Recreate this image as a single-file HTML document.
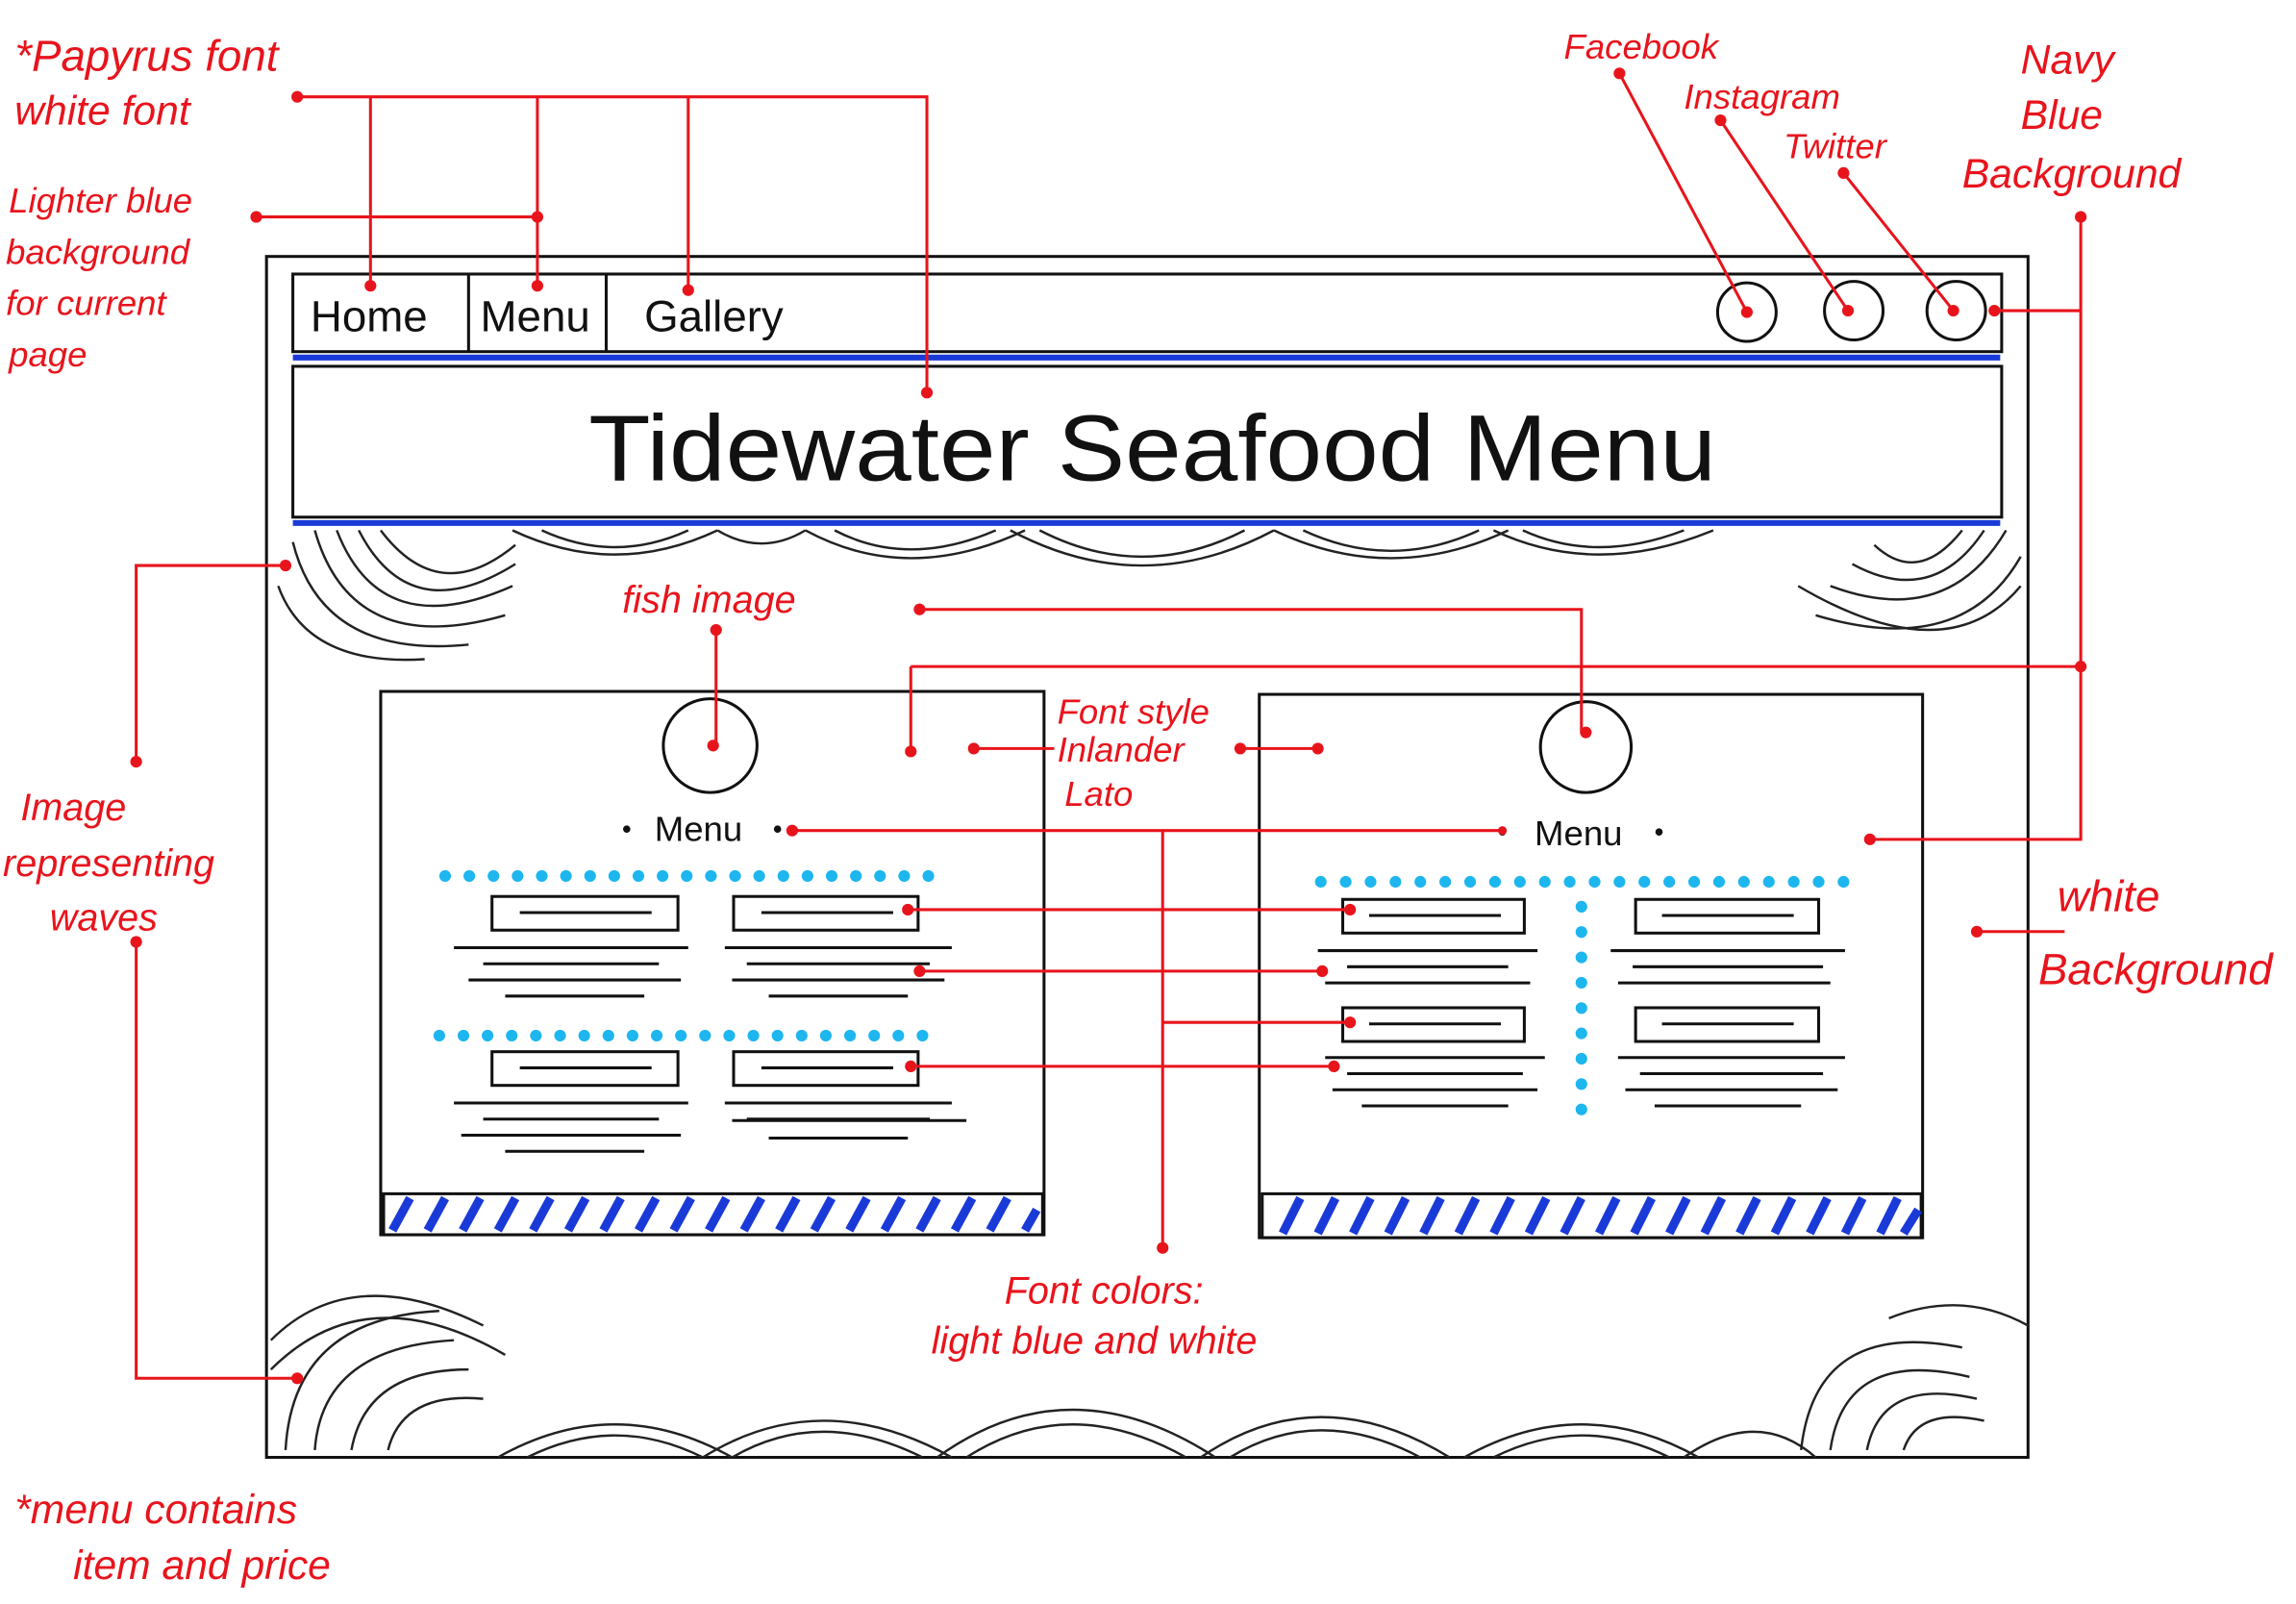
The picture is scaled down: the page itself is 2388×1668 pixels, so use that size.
<!DOCTYPE html>
<html><head><meta charset="utf-8"><style>
html,body{margin:0;padding:0;background:#fff}
svg{display:block}
.r{fill:#e8141c;font-family:"Liberation Sans",sans-serif;font-style:italic;font-size:24px}
.k{stroke:#111;fill:none;stroke-width:2}
.w{stroke:#222;fill:none;stroke-width:1.6}
.rl{stroke:#e8141c;stroke-width:2;fill:none}
.d{fill:#e8141c}
</style></head><body>
<svg width="2388" height="1668" viewBox="0 0 1568 1095" xmlns="http://www.w3.org/2000/svg">
<rect width="1568" height="1095" fill="#fff"/>
<rect x="182" y="175" width="1203" height="820" class="k"/>
<rect x="200" y="187" width="1167" height="53" class="k"/>
<line x1="320" y1="187" x2="320" y2="240" class="k"/>
<line x1="414" y1="187" x2="414" y2="240" class="k"/>
<g font-family="Liberation Sans,sans-serif" font-size="30" fill="#111">
<text x="212" y="226">Home</text><text x="328" y="226">Menu</text><text x="440" y="226">Gallery</text></g>
<circle cx="1193" cy="213" r="20" class="k"/><circle cx="1266" cy="212" r="20" class="k"/><circle cx="1336" cy="212" r="20" class="k"/>
<line x1="200" y1="244" x2="1366" y2="244" stroke="#1a3ad8" stroke-width="4"/>
<rect x="200" y="250" width="1167" height="103" class="k"/>
<text x="402" y="328" textLength="770" lengthAdjust="spacingAndGlyphs" font-family="Liberation Sans,sans-serif" font-size="64" fill="#111">Tidewater Seafood Menu</text>
<line x1="200" y1="357" x2="1366" y2="357" stroke="#1a3ad8" stroke-width="4"/>
<g class="w">
<path d="M230 362 Q260 440 350 400"/><path d="M215 362 Q240 450 345 420"/><path d="M200 370 Q220 450 320 440"/><path d="M190 400 Q210 455 290 450"/><path d="M245 362 Q280 430 352 385"/><path d="M260 362 Q300 415 352 372"/>
<path d="M1380 380 Q1340 450 1240 420"/><path d="M1380 400 Q1330 460 1228 400"/><path d="M1370 362 Q1330 430 1250 400"/><path d="M1355 362 Q1320 415 1265 385"/><path d="M1340 362 Q1310 400 1280 372"/>
<path d="M350 362 Q420 395 490 362"/><path d="M370 362 Q420 385 470 362"/><path d="M550 362 Q620 400 700 362"/><path d="M570 362 Q620 388 680 362"/><path d="M690 362 Q780 410 870 362"/><path d="M710 362 Q780 398 850 362"/><path d="M870 362 Q950 400 1030 362"/><path d="M890 362 Q950 390 1010 362"/><path d="M1020 362 Q1090 395 1170 362"/><path d="M1040 362 Q1090 385 1150 362"/><path d="M490 362 Q520 380 550 362"/>
</g>
<g class="w">
<path d="M185 915 Q240 860 330 905"/><path d="M185 935 Q250 870 345 925"/><path d="M195 990 Q200 900 300 895"/><path d="M215 990 Q220 920 310 915"/><path d="M240 990 Q250 935 320 935"/><path d="M265 990 Q275 950 330 955"/>
<path d="M1230 990 Q1240 900 1340 920"/><path d="M1250 990 Q1260 920 1345 940"/><path d="M1275 990 Q1285 940 1350 955"/><path d="M1300 990 Q1310 960 1355 970"/><path d="M1290 900 Q1340 880 1385 905"/>
<path d="M340 995 Q420 950 500 995"/><path d="M360 995 Q420 965 480 995"/><path d="M480 995 Q560 945 650 995"/><path d="M500 995 Q560 960 630 995"/><path d="M640 995 Q730 930 830 995"/><path d="M660 995 Q730 950 810 995"/><path d="M820 995 Q900 940 990 995"/><path d="M840 995 Q900 958 970 995"/><path d="M1000 995 Q1080 950 1160 995"/><path d="M1020 995 Q1080 965 1140 995"/><path d="M1150 995 Q1200 960 1240 995"/>
</g>
<rect x="260" y="472" width="453" height="371" class="k"/>
<circle cx="485" cy="509" r="32" class="k"/>
<text x="447" y="574" font-family="Liberation Sans,sans-serif" font-size="24" fill="#111">Menu</text>
<circle cx="428" cy="566" r="2.5" fill="#111"/><circle cx="531" cy="566" r="2.5" fill="#111"/>
<line x1="304" y1="598" x2="643" y2="598" stroke="#1db6ef" stroke-width="8" stroke-linecap="round" stroke-dasharray="0 16.5"/>
<line x1="300" y1="707" x2="640" y2="707" stroke="#1db6ef" stroke-width="8" stroke-linecap="round" stroke-dasharray="0 16.5"/>
<g class="k" stroke-width="1.6">
<rect x="336" y="612" width="127" height="23"/><rect x="501" y="612" width="126" height="23"/><rect x="336" y="718" width="127" height="23"/><rect x="501" y="718" width="126" height="23"/>
<path d="M355 623H445M520 623H610M355 729H445M520 729H610"/>
<path d="M310 647H470M330 658H450M320 669H465M345 680H440M495 647H650M510 658H635M500 669H645M525 680H620"/>
<path d="M310 753H470M330 764H450M315 775H465M345 786H440M495 753H650M510 764H635M500 765H660M525 777H620"/>
</g>
<rect x="262" y="815" width="450" height="28" class="k"/>
<g stroke="#1a3ad8" stroke-width="6">
<path d="M268 840L280 818M292 840L304 818M316 840L328 818M340 840L352 818M364 840L376 818M388 840L400 818M412 840L424 818M436 840L448 818M460 840L472 818M484 840L496 818M508 840L520 818M532 840L544 818M556 840L568 818M580 840L592 818M604 840L616 818M628 840L640 818M652 840L664 818M676 840L688 818M700 840L708 826"/></g>
<rect x="860" y="474" width="453" height="371" class="k"/>
<circle cx="1083" cy="510" r="31" class="k"/>
<text x="1048" y="577" font-family="Liberation Sans,sans-serif" font-size="24" fill="#111">Menu</text>
<circle cx="1026" cy="568" r="2.5" fill="#111"/><circle cx="1133" cy="568" r="2.5" fill="#111"/>
<line x1="902" y1="602" x2="1262" y2="602" stroke="#1db6ef" stroke-width="8" stroke-linecap="round" stroke-dasharray="0 17"/>
<line x1="1080" y1="619" x2="1080" y2="758" stroke="#1db6ef" stroke-width="8" stroke-linecap="round" stroke-dasharray="0 17.3"/>
<g class="k" stroke-width="1.6">
<rect x="917" y="614" width="124" height="23"/><rect x="1117" y="614" width="125" height="23"/><rect x="917" y="688" width="124" height="23"/><rect x="1117" y="688" width="125" height="23"/>
<path d="M935 625H1025M1135 625H1225M935 699H1025M1135 699H1225"/>
<path d="M900 649H1050M920 660H1030M905 671H1045M1100 649H1260M1115 660H1245M1105 671H1250"/>
<path d="M905 722H1055M920 733H1040M910 744H1050M930 755H1030M1105 722H1260M1120 733H1245M1110 744H1255M1130 755H1230"/>
</g>
<rect x="862" y="815" width="450" height="30" class="k"/>
<g stroke="#1a3ad8" stroke-width="6">
<path d="M876 842L888 818M900 842L912 818M924 842L936 818M948 842L960 818M972 842L984 818M996 842L1008 818M1020 842L1032 818M1044 842L1056 818M1068 842L1080 818M1092 842L1104 818M1116 842L1128 818M1140 842L1152 818M1164 842L1176 818M1188 842L1200 818M1212 842L1224 818M1236 842L1248 818M1260 842L1272 818M1284 842L1296 818M1300 842L1310 826"/></g>
<g class="rl">
<path d="M203 66H633V268M253 66V195M367 66V195M470 66V198"/>
<path d="M175 148H367"/>
<path d="M1106 50L1193 213M1175 82L1262 212M1259 118L1334 212"/>
<path d="M1421 148V573H1277M1362 212H1421M622 455H1421M622 455V513"/>
<path d="M489 430V509M628 416H1080V500"/>
<path d="M665 511H720M847 511H900"/>
<path d="M541 567H1026M794 568V852M620 621H922M628 663H903M794 698H922M622 728H911"/>
<path d="M93 520V386H195M93 643V941H203"/>
<path d="M1350 636H1410"/>
</g>
<g class="d">
<circle cx="203" cy="66" r="4"/><circle cx="253" cy="195" r="4"/><circle cx="367" cy="195" r="4"/><circle cx="470" cy="198" r="4"/><circle cx="633" cy="268" r="4"/><circle cx="175" cy="148" r="4"/><circle cx="367" cy="148" r="4"/>
<circle cx="1106" cy="50" r="4"/><circle cx="1175" cy="82" r="4"/><circle cx="1259" cy="118" r="4"/><circle cx="1193" cy="213" r="4"/><circle cx="1262" cy="212" r="4"/><circle cx="1334" cy="212" r="4"/>
<circle cx="1421" cy="148" r="4"/><circle cx="1362" cy="212" r="4"/><circle cx="1277" cy="573" r="4"/><circle cx="622" cy="513" r="4"/><circle cx="1421" cy="455" r="4"/>
<circle cx="489" cy="430" r="4"/><circle cx="487" cy="509" r="4"/><circle cx="628" cy="416" r="4"/><circle cx="1083" cy="500" r="4"/>
<circle cx="665" cy="511" r="4"/><circle cx="847" cy="511" r="4"/><circle cx="900" cy="511" r="4"/>
<circle cx="541" cy="567" r="4"/><circle cx="1026" cy="567" r="3"/><circle cx="794" cy="852" r="4"/><circle cx="620" cy="621" r="4"/><circle cx="922" cy="621" r="4"/><circle cx="628" cy="663" r="4"/><circle cx="903" cy="663" r="4"/><circle cx="922" cy="698" r="4"/><circle cx="622" cy="728" r="4"/><circle cx="911" cy="728" r="4"/>
<circle cx="93" cy="520" r="4"/><circle cx="195" cy="386" r="4"/><circle cx="93" cy="643" r="4"/><circle cx="203" cy="941" r="4"/><circle cx="1350" cy="636" r="4"/>
</g>
<g class="r">
<text x="10" y="48" font-size="30">*Papyrus font</text>
<text x="10" y="85" font-size="28">white font</text>
<text x="6" y="145">Lighter blue</text>
<text x="4" y="180">background</text>
<text x="4" y="215">for current</text>
<text x="6" y="250">page</text>
<text x="1068" y="40">Facebook</text>
<text x="1150" y="74">Instagram</text>
<text x="1218" y="108">Twitter</text>
<text x="1380" y="50" font-size="28">Navy</text>
<text x="1380" y="88" font-size="28">Blue</text>
<text x="1340" y="128" font-size="28">Background</text>
<text x="425" y="418" font-size="26">fish image</text>
<text x="722" y="494">Font style</text>
<text x="722" y="520">Inlander</text>
<text x="727" y="550">Lato</text>
<text x="14" y="560" font-size="26">Image</text>
<text x="2" y="598" font-size="26">representing</text>
<text x="34" y="635" font-size="26">waves</text>
<text x="1405" y="622" font-size="30">white</text>
<text x="1392" y="672" font-size="30">Background</text>
<text x="686" y="890" font-size="26">Font colors:</text>
<text x="636" y="924" font-size="26">light blue and white</text>
<text x="10" y="1040" font-size="28">*menu contains</text>
<text x="50" y="1078" font-size="28">item   and   price</text>
</g>
</svg>
</body></html>
